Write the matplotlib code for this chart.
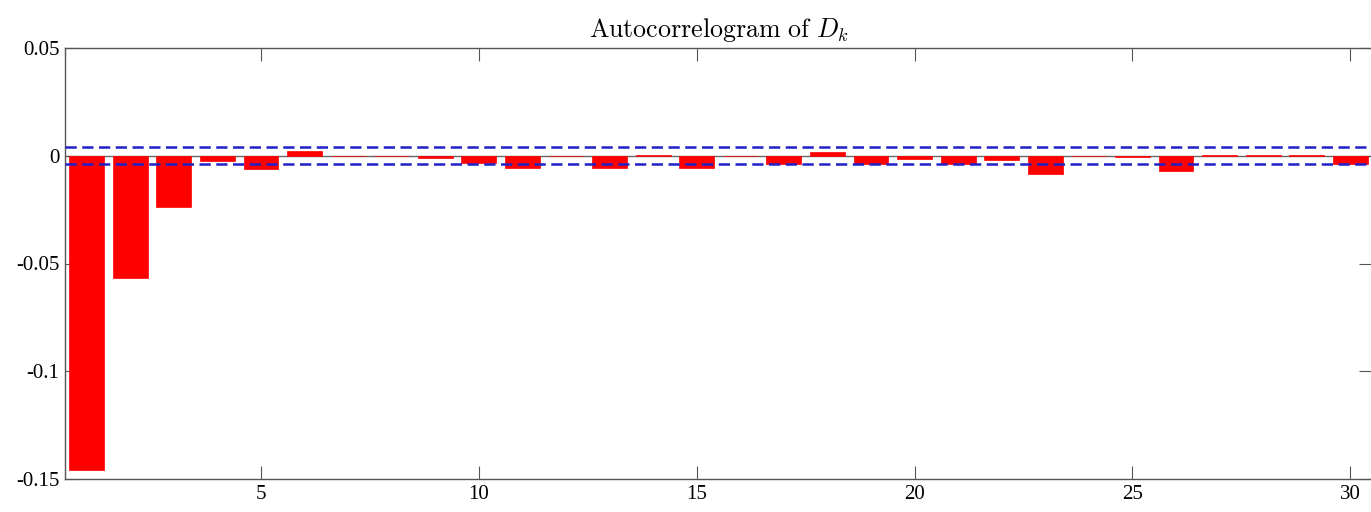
import matplotlib
matplotlib.use("Agg")
import matplotlib.pyplot as plt
import numpy as np

lags = list(range(1, 31))
acf = [-0.1458, -0.0568, -0.0239, -0.0025, -0.0062, 0.0020, 0.0000, -0.0003, -0.0010, -0.0034,
       -0.0059, 0.0000, -0.0056, 0.0004, -0.0059, 0.0000, -0.0040, 0.0016, -0.0039, -0.0016,
       -0.0039, -0.0018, -0.0083, 0.0000, -0.0006, -0.0072, 0.0003, 0.0003, 0.0003, -0.0040]
conf_bound = 0.0039
yticks = [-0.15, -0.1, -0.05, 0, 0.05]
yticklabels = ["-0.15", "-0.1", "-0.05", "0", "0.05"]
xticks = [5, 10, 15, 20, 25, 30]

plt.rcParams['mathtext.fontset'] = 'cm'
fig = plt.figure(figsize=(13.71, 5.12), dpi=100)
ax = fig.add_axes([65/1371, 1-479/512, 1307/1371, 431/512])

ax.bar(lags, acf, width=0.8, color='#ff0000', edgecolor='#ff0000', linewidth=0.5, zorder=2)
ax.axhline(0, color='#666666', linewidth=1.0, zorder=1)
ax.axhline(conf_bound, color='#2020c8', linestyle=(0, (4.5, 2.2)), linewidth=1.8, zorder=3)
ax.axhline(-conf_bound, color='#2020c8', linestyle=(0, (4.5, 2.2)), linewidth=1.8, zorder=3)

ax.set_xlim(0.5, 30.5)
ax.set_ylim(-0.15, 0.05)
ax.set_xticks(xticks)
ax.set_xticklabels([str(t) for t in xticks], fontfamily='Liberation Serif', fontsize=15)
ax.set_yticks(yticks)
ax.set_yticklabels(yticklabels, fontfamily='Liberation Serif', fontsize=15)
ax.tick_params(direction='in', length=9.5, width=0.8, color='#555555', top=True, right=True,
               pad=4)
for s in ax.spines.values():
    s.set_color('#555555')
    s.set_linewidth(1.0)
ax.spines['right'].set_visible(False)

ax.set_title(r"$\mathrm{Autocorrelogram\ of}\ D_k$", fontsize=18.7, pad=8)

fig.savefig("out.png", dpi=100)
